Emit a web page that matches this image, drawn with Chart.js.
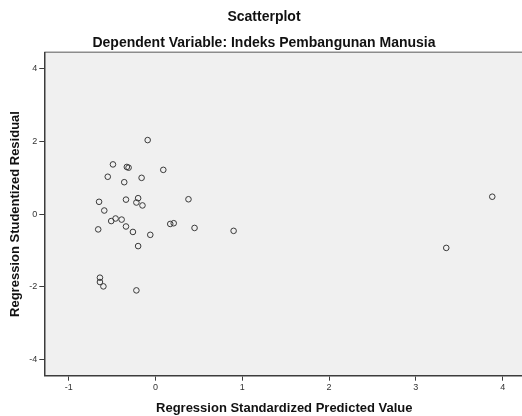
<!DOCTYPE html>
<html>
<head>
<meta charset="utf-8">
<script src="https://cdn.jsdelivr.net/npm/chart.js@4/dist/chart.umd.min.js"></script>
<style>
  html, body { margin: 0; padding: 0; background: #fff; overflow: hidden; }
  #wrap { width: 528px; height: 416px; }
</style>
</head>
<body>
<div id="wrap"><canvas id="chart" width="528" height="416"></canvas></div>
<script>
const predictedValue = [-0.09, -0.49, -0.33, -0.31, 0.09, -0.55, -0.16, -0.36, -0.65, -0.34, -0.20,
    -0.22, -0.15, 0.38, -0.59, -0.46, -0.51, -0.39, -0.34, -0.66, -0.26, -0.06, 0.17, 0.21, 0.45,
    0.90, -0.20, -0.64, -0.64, -0.60, -0.22, 3.35, 3.88];
const studentizedResidual = [2.04, 1.37, 1.30, 1.28, 1.22, 1.03, 1.00, 0.88, 0.34, 0.40, 0.44,
    0.32, 0.24, 0.41, 0.10, -0.12, -0.19, -0.15, -0.34, -0.42, -0.49, -0.57, -0.27, -0.25, -0.38,
    -0.46, -0.88, -1.75, -1.87, -1.99, -2.10, -0.93, 0.48];
const xTicks = [-1, 0, 1, 2, 3, 4];
const yTicks = [-4, -2, 0, 2, 4];

const FONT = "'Liberation Sans', Arial, sans-serif";
const AXIS_COLOR = "#3c3c3c";

const points = predictedValue.map((x, i) => ({ x, y: studentizedResidual[i] }));

// gray plot panel with a lighter top frame line, like SPSS output
const plotBackground = {
    id: "plotBackground",
    beforeDraw(chart) {
        const { ctx, chartArea } = chart;
        ctx.save();
        ctx.fillStyle = "#f0f0f0";
        ctx.fillRect(chartArea.left, chartArea.top, chartArea.right - chartArea.left, chartArea.bottom - chartArea.top);
        ctx.strokeStyle = "#8c8c8c";
        ctx.lineWidth = 1.5;
        ctx.beginPath();
        ctx.moveTo(chartArea.left, chartArea.top);
        ctx.lineTo(chartArea.right, chartArea.top);
        ctx.stroke();
        ctx.restore();
    },
};

new Chart(document.getElementById("chart"), {
    type: "scatter",
    data: {
        datasets: [
            {
                label: "Residual",
                data: points,
                pointStyle: "circle",
                pointRadius: 2.8,
                pointHoverRadius: 2.8,
                borderWidth: 1,
                borderColor: "#3a3a3a",
                backgroundColor: "rgba(0,0,0,0)",
            },
        ],
    },
    options: {
        responsive: false,
        animation: false,
        layout: { padding: 0 },
        scales: {
            x: {
                type: "linear",
                min: -1.281,
                max: 4.248,
                afterBuildTicks: (scale) => {
                    scale.ticks = xTicks.map((v) => ({ value: v }));
                },
                afterFit: (scale) => {
                    scale.height = 40.3;
                },
                grid: { drawOnChartArea: false, drawTicks: true, tickLength: 5, color: AXIS_COLOR },
                border: { display: true, color: AXIS_COLOR, width: 1.5 },
                ticks: { color: "#333", font: { family: FONT, size: 9 }, padding: 1, maxRotation: 0 },
                title: {
                    display: true,
                    text: "Regression Standardized Predicted Value",
                    color: "#111",
                    font: { family: FONT, size: 13, weight: "bold" },
                    padding: { top: 0, bottom: 0.2 },
                },
            },
            y: {
                type: "linear",
                min: -4.45,
                max: 4.458,
                afterBuildTicks: (scale) => {
                    scale.ticks = yTicks.map((v) => ({ value: v }));
                },
                afterFit: (scale) => {
                    scale.width = 44.3;
                },
                grid: { drawOnChartArea: false, drawTicks: true, tickLength: 5, color: AXIS_COLOR },
                border: { display: true, color: AXIS_COLOR, width: 1.5 },
                ticks: { color: "#333", font: { family: FONT, size: 9 }, padding: 2 },
                title: {
                    display: true,
                    text: "Regression Studentized Residual",
                    color: "#111",
                    font: { family: FONT, size: 13, weight: "bold" },
                    padding: { top: 7.2, bottom: 0 },
                },
            },
        },
        plugins: {
            legend: { display: false },
            tooltip: { enabled: false },
            title: {
                display: true,
                text: "Scatterplot",
                color: "#111",
                font: { family: FONT, size: 14, weight: "bold" },
                padding: { top: 8.3, bottom: 2 },
            },
            subtitle: {
                display: true,
                text: "Dependent Variable: Indeks Pembangunan Manusia",
                color: "#111",
                font: { family: FONT, size: 14, weight: "bold" },
                padding: { top: 7.2, bottom: 1.2 },
            },
        },
    },
    plugins: [plotBackground],
});
</script>
</body>
</html>
